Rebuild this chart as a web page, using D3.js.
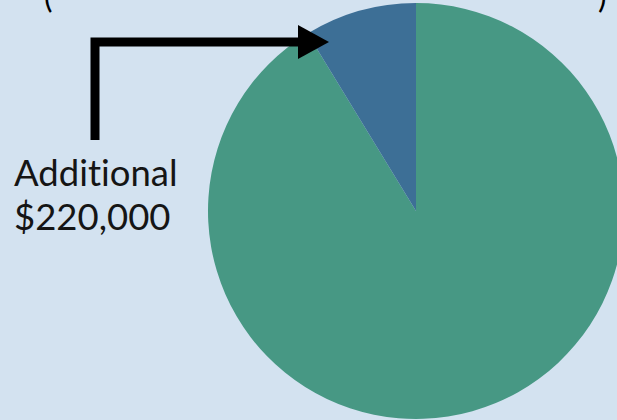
<!DOCTYPE html>
<html><head><meta charset="utf-8">
<script src="https://cdn.jsdelivr.net/npm/d3@7"></script>
<style>html,body{margin:0;padding:0;background:#d3e2f0;overflow:hidden} text{font-variant-ligatures:none;font-feature-settings:"liga" 0}</style>
</head><body>
<svg id="c" width="617" height="420"></svg>
<script>
const categories = ["Base", "Additional"];
const values = [2300000, 220000];
const colors = ["#479884", "#3d6f96"];
const labelLines = ["Additional", "$220,000"];

const svg = d3.select("#c");
svg.append("rect").attr("width", 617).attr("height", 420).attr("fill", "#d3e2f0");

const cx = 416, cy = 211, r = 208;
const pie = d3.pie().sort(null).startAngle(0).endAngle(2 * Math.PI);
const arcs = pie(values);
const arc = d3.arc().innerRadius(0).outerRadius(r);
const g = svg.append("g").attr("transform", `translate(${cx},${cy})`);
g.selectAll("path").data(arcs).join("path")
  .attr("d", arc)
  .attr("fill", (d, i) => colors[i]);

// cut-off title parentheses at top
svg.append("text").attr("x", 44).attr("y", 8).attr("font-family", "Lato, sans-serif")
  .attr("font-size", 32).attr("fill", "#000").text("(");
svg.append("text").attr("x", 598).attr("y", 8).attr("font-family", "Lato, sans-serif")
  .attr("font-size", 32).attr("fill", "#000").text(")");

// arrow
const arrow = svg.append("g");
arrow.append("path")
  .attr("d", "M95,140 L95,42 L302,42")
  .attr("fill", "none").attr("stroke", "#000").attr("stroke-width", 9)
  .attr("stroke-linejoin", "miter");
arrow.append("path")
  .attr("d", "M298,25 L329,42 L298,59 Z")
  .attr("fill", "#000");

// label
const t = svg.append("text").attr("font-family", "Lato, sans-serif")
  .attr("font-size", 36.5).attr("fill", "#151515");
labelLines.forEach((s, i) => t.append("tspan").attr("x", 14).attr("y", 186 + i * 44).text(s));
</script>
</body></html>
